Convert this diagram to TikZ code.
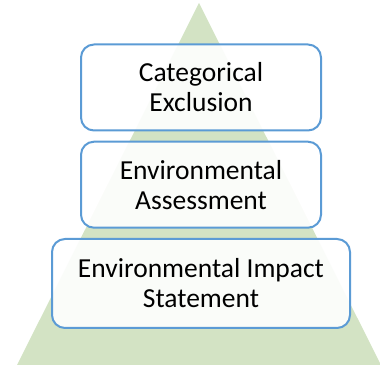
\documentclass[tikz,border=0pt]{standalone}
\usepackage{fontspec}
\setmainfont{Carlito}
\definecolor{pyrgreen}{RGB}{211,227,196}
\definecolor{boxblue}{RGB}{91,155,213}
\begin{document}
\begin{tikzpicture}[x=1pt,y=1pt,
  level/.style={draw=boxblue, line width=2pt, rounded corners=13pt, fill=white, fill opacity=0.9, text opacity=1, align=center, font=\fontsize{27.5}{30}\selectfont, inner sep=0pt, anchor=center}]
\useasboundingbox (0,0) rectangle (380,364);
\fill[pyrgreen] (199,361) -- (381,-1) -- (17,-1) -- cycle;
\node[level, minimum width=240pt, minimum height=86pt] (ce) at (201,276.5) {Categorical\\Exclusion};
\node[level, minimum width=240pt, minimum height=86pt] (ea) at (201,179.3) {Environmental\\Assessment};
\node[level, minimum width=298pt, minimum height=89pt] (eis) at (201,80.5) {Environmental Impact\\Statement};
\end{tikzpicture}
\end{document}
